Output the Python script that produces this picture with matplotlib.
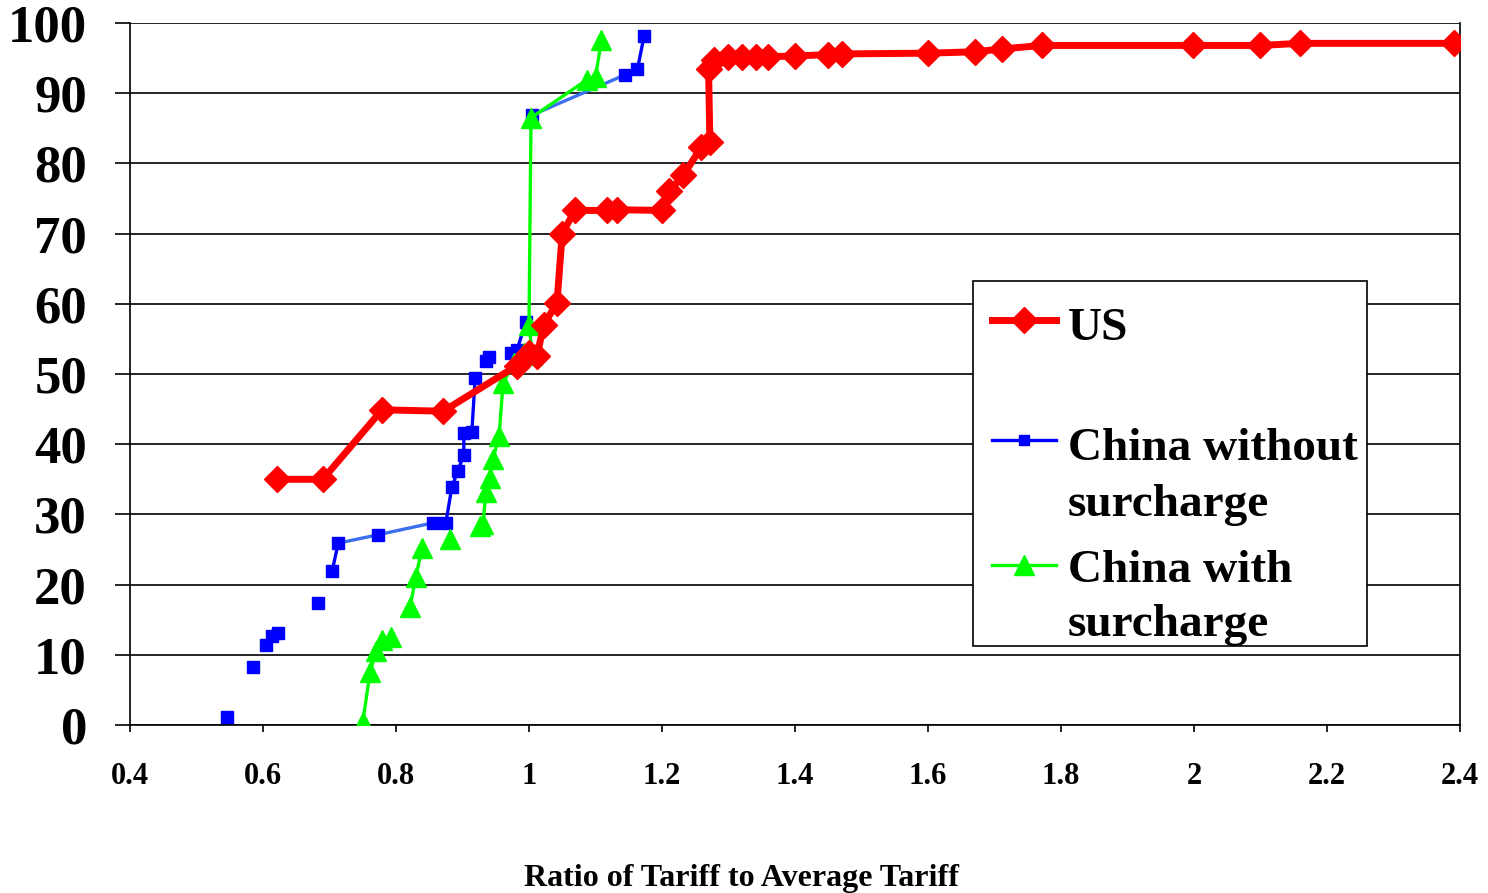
import matplotlib
matplotlib.use('Agg')
import matplotlib.pyplot as plt
from matplotlib.lines import Line2D
from matplotlib.patches import Rectangle
from matplotlib.ticker import FormatStrFormatter

# US
us_x = [0.621, 0.690, 0.779, 0.871, 0.982, 1.000, 1.012, 1.022, 1.042, 1.050, 1.069,
        1.117, 1.132, 1.200, 1.211, 1.232, 1.259, 1.272, 1.270, 1.278, 1.299, 1.320,
        1.341, 1.359, 1.400, 1.450, 1.471, 1.600, 1.671, 1.711, 1.771, 1.998, 2.099,
        2.159, 2.391]
us_y = [35.0, 35.0, 44.9, 44.7, 51.2, 53.0, 52.5, 57.0, 60.1, 70.0, 73.3,
        73.3, 73.4, 73.3, 76.0, 78.3, 82.3, 83.0, 93.5, 94.8, 95.2, 95.2,
        95.2, 95.2, 95.3, 95.5, 95.6, 95.7, 95.9, 96.3, 96.8, 96.8, 96.8,
        97.1, 97.1]

# China without surcharge
cn_x = [0.546, 0.585, 0.605, 0.613, 0.623, 0.683, 0.704, 0.713, 0.773, 0.856,
        0.875, 0.884, 0.893, 0.902, 0.902, 0.914, 0.919, 0.935, 0.940, 0.973,
        0.982, 0.995, 1.005, 1.144, 1.163, 1.173]
cn_y = [1.1, 8.3, 11.4, 12.7, 13.1, 17.4, 21.9, 25.9, 27.1, 28.8,
        28.8, 33.9, 36.2, 38.5, 41.6, 41.7, 49.4, 51.9, 52.4, 53.0,
        53.4, 57.4, 86.9, 92.6, 93.4, 98.1]
cn_dark_runs = [(6, 7), (10, 16), (19, 21), (24, 25)]
cn_light_runs = [(7, 9), (22, 23)]

# China with surcharge
cs_x = [0.750, 0.761, 0.770, 0.779, 0.792, 0.821, 0.830, 0.839, 0.881, 0.926,
        0.931, 0.935, 0.941, 0.946, 0.955, 0.961, 0.977, 0.992, 1.005, 1.000,
        1.003, 1.087, 1.100, 1.109]
cs_y = [0.4, 7.5, 10.5, 12.1, 12.5, 16.8, 21.1, 25.2, 26.5, 28.3,
        28.6, 33.2, 35.2, 37.9, 41.2, 48.7, 51.6, 53.0, 52.7, 57.0,
        86.5, 91.9, 92.3, 97.6]
cs_runs = [(0, 4), (5, 7), (9, 23)]

plt.rcParams['font.family'] = ['Liberation Serif', 'DejaVu Serif']
plt.rcParams['font.weight'] = 'bold'

fig = plt.figure(figsize=(14.88, 8.93), dpi=100)
ax = fig.add_axes([130 / 1488, 1 - 725 / 893, 1330 / 1488, 702 / 893])

RED, BLUE, LBLUE, GREEN = '#FF0000', '#0000FF', '#3C6EF0', '#00FF00'

for a, b in cn_dark_runs:
    ax.plot(cn_x[a:b + 1], cn_y[a:b + 1], color=BLUE, lw=2.4, zorder=3)
for a, b in cn_light_runs:
    ax.plot(cn_x[a:b + 1], cn_y[a:b + 1], color=LBLUE, lw=2.4, zorder=3)
ax.plot(cn_x, cn_y, ls='none', marker='s', ms=8.5, color=BLUE, zorder=4)

for a, b in cs_runs:
    ax.plot(cs_x[a:b + 1], cs_y[a:b + 1], color=GREEN, lw=2.4, zorder=5)
ax.plot(cs_x, cs_y, ls='none', marker='^', ms=15, color=GREEN, zorder=6)

ax.plot(us_x, us_y, color=RED, lw=5, marker='D', ms=13.5, zorder=7)

ax.set_xlim(0.4, 2.4)
ax.set_ylim(0, 100)
ax.set_xticks([0.4 + 0.2 * i for i in range(11)])
ax.set_yticks(range(0, 101, 10))
ax.xaxis.set_major_formatter(FormatStrFormatter('%g'))
ax.grid(axis='y', color='black', lw=1.2, zorder=0)
ax.set_axisbelow(True)
for s in ax.spines.values():
    s.set_linewidth(1.2)
ax.spines['top'].set_visible(False)
ax.tick_params(axis='y', direction='out', length=11, width=1.2, pad=20, labelsize=38)
ax.tick_params(axis='x', direction='out', length=5, width=1.2, pad=22, labelsize=22)
ax.set_xlabel('Ratio of Tariff to Average Tariff', fontsize=23, fontweight='bold', labelpad=52)
ax.xaxis.label.set_x(0.46)

# legend box
ax.add_patch(Rectangle((0.634, 0.1125), 0.296, 0.52, transform=ax.transAxes,
                       facecolor='white', edgecolor='black', lw=1.2, zorder=10))
handles = [(0.577, RED, 'D', 13, 5), (0.406, BLUE, 's', 7.5, 2.4), (0.228, GREEN, '^', 15, 2.4)]
for y, c, m, ms, lw in handles:
    ax.add_line(Line2D([0.648, 0.696], [y, y], transform=ax.transAxes, color=c, lw=lw, zorder=11))
    ax.add_line(Line2D([0.672], [y], transform=ax.transAxes, color=c, marker=m, ms=ms, zorder=12))
labels = [(0.5484, 'US'), (0.3775, 'China without'), (0.2977, 'surcharge'),
          (0.2037, 'China with'), (0.1268, 'surcharge')]
for y, t in labels:
    ax.text(0.705, y, t, transform=ax.transAxes, fontsize=34, fontweight='bold',
            va='baseline', ha='left', zorder=12)

fig.savefig('out.png', dpi=100)
